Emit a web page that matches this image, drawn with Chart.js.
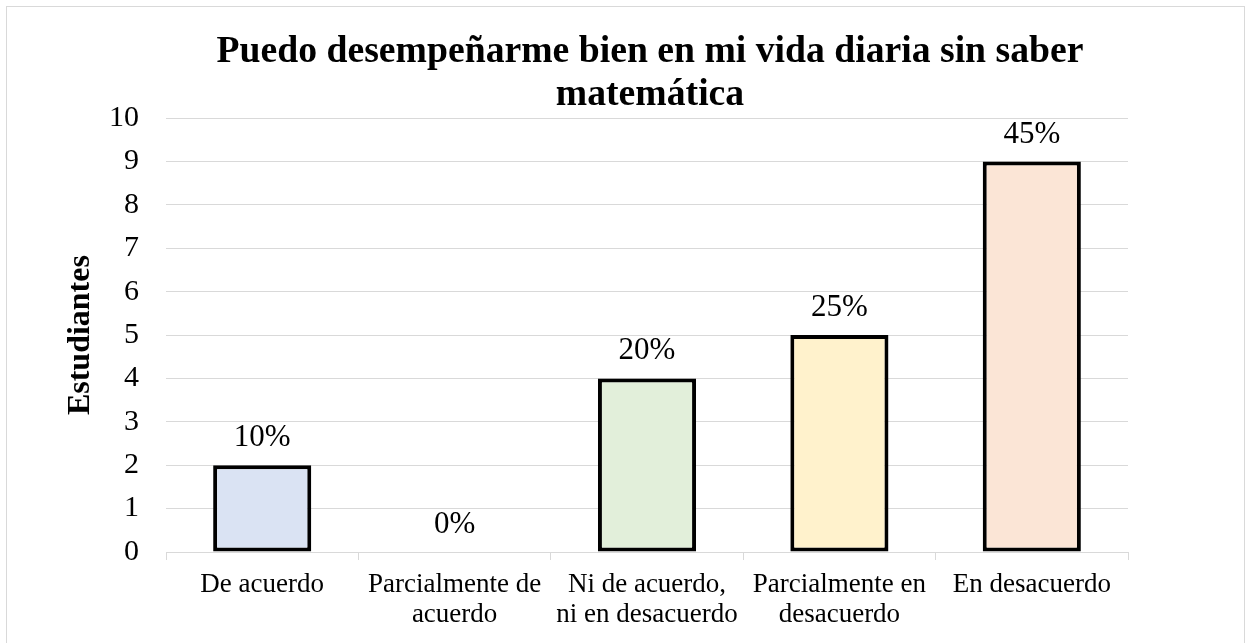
<!DOCTYPE html>
<html>
<head>
<meta charset="utf-8">
<script src="https://cdn.jsdelivr.net/npm/chart.js@4"></script>
<style>
  body { margin: 0; background: #fff; }
  #wrap { position: relative; width: 1250px; height: 643px; }
  #frame { position: absolute; left: 6px; top: 6px; width: 1237px; height: 640px; border: 1px solid #d9d9d9; pointer-events: none; }
</style>
</head>
<body>
<div id="wrap">
  <canvas id="chart" width="1250" height="643"></canvas>
  <div id="frame"></div>
</div>
<script>
// datos
const categories = [
  ['De acuerdo'],
  ['Parcialmente de', 'acuerdo'],
  ['Ni de acuerdo,', 'ni en desacuerdo'],
  ['Parcialmente en', 'desacuerdo'],
  ['En desacuerdo']
];
const students = [2, 0, 4, 5, 9];
const percentLabels = ['10%', '0%', '20%', '25%', '45%'];
const barColors = ['#DAE3F3', '#FFFFFF', '#E2EFDA', '#FFF2CC', '#FBE5D6'];
const yTicks = [0, 1, 2, 3, 4, 5, 6, 7, 8, 9, 10];

const serif = '"Liberation Serif", "Times New Roman", serif';

// etiquetas de porcentaje encima de cada barra
const percentPlugin = {
  id: 'percentLabels',
  afterDatasetsDraw(chart) {
    const ctx = chart.ctx;
    const meta = chart.getDatasetMeta(0);
    ctx.save();
    ctx.font = '31px ' + serif;
    ctx.fillStyle = '#000';
    ctx.textAlign = 'center';
    ctx.textBaseline = 'alphabetic';
    meta.data.forEach((bar, i) => {
      ctx.fillText(percentLabels[i], bar.x, bar.y - 19);
    });
    ctx.restore();
  }
};

new Chart(document.getElementById('chart').getContext('2d'), {
  type: 'bar',
  data: {
    labels: categories,
    datasets: [{
      data: students,
      backgroundColor: barColors,
      borderColor: '#000',
      borderWidth: students.map(v => v > 0 ? 4 : 0),
      borderSkipped: false,
      barPercentage: 0.51,
      categoryPercentage: 1
    }]
  },
  options: {
    responsive: false,
    animation: false,
    layout: { padding: { left: 50, right: 0, top: 0, bottom: 0 } },
    plugins: {
      legend: { display: false },
      tooltip: { enabled: false },
      title: {
        display: true,
        text: ['Puedo desempeñarme bien en mi vida diaria sin saber', 'matemática'],
        color: '#000',
        font: { family: serif, size: 37.7, weight: 'bold', lineHeight: 1.13 },
        padding: { top: 31, bottom: 2 }
      }
    },
    scales: {
      x: {
        grid: { offset: true, drawOnChartArea: false, drawTicks: true, tickLength: 8, color: '#d9d9d9' },
        border: { color: '#d9d9d9', width: 1 },
        ticks: {
          color: '#000',
          font: { family: serif, size: 27, lineHeight: 1.1 },
          padding: 10,
          maxRotation: 0,
          autoSkip: false
        },
        afterFit(scale) { scale.height = 91; }
      },
      y: {
        min: 0,
        max: 10,
        afterBuildTicks(scale) { scale.ticks = yTicks.map(v => ({ value: v })); },
        grid: { color: '#d9d9d9', drawTicks: false },
        border: { display: false },
        ticks: {
          color: '#000',
          font: { family: serif, size: 30 },
          padding: 27
        },
        title: {
          display: true,
          text: 'Estudiantes',
          color: '#000',
          font: { family: serif, size: 32, weight: 'bold' },
          padding: { top: 12, bottom: 0 }
        },
        afterFit(scale) { scale.width = 116; }
      },
      // eje vacío a la derecha para reservar el margen y centrar el título
      yRight: {
        position: 'right',
        min: 0,
        max: 10,
        grid: { display: false },
        border: { display: false },
        ticks: { display: false },
        afterFit(scale) { scale.width = 122; }
      }
    }
  },
  plugins: [percentPlugin]
});
</script>
</body>
</html>
